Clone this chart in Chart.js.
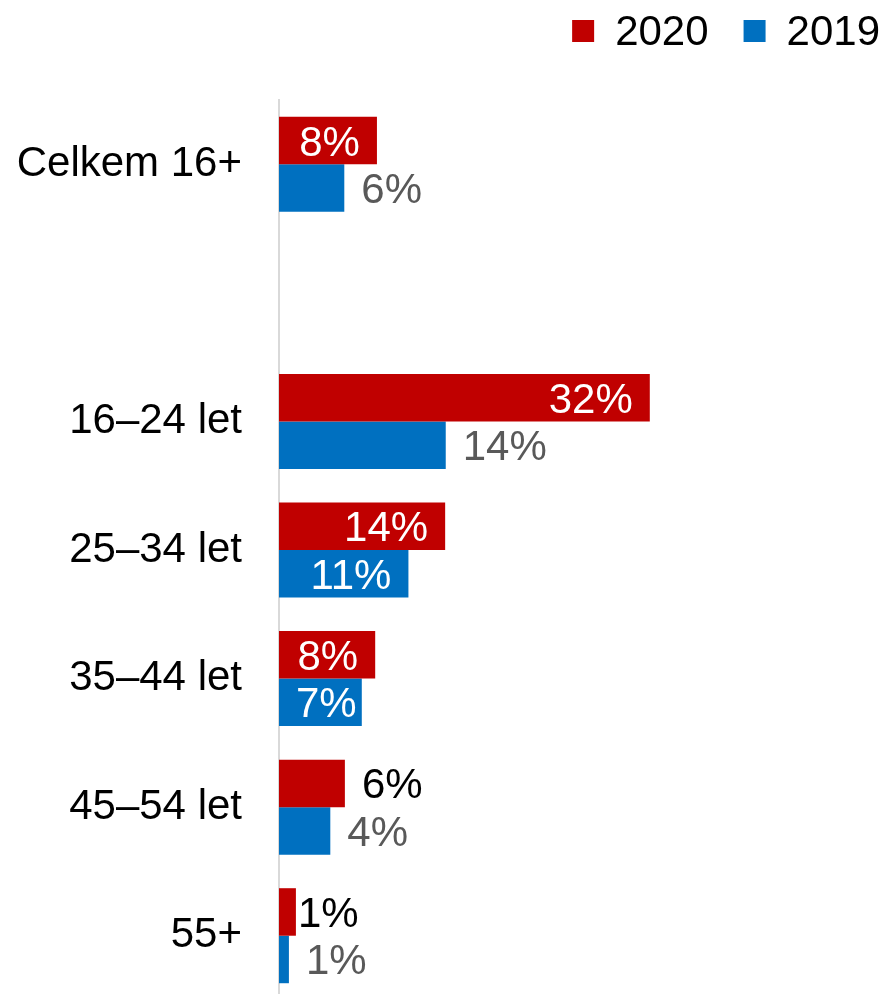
<!DOCTYPE html>
<html>
<head>
<meta charset="utf-8">
<script src="https://cdn.jsdelivr.net/npm/chart.js@4.4.0/dist/chart.umd.min.js"></script>
<style>
  html, body { margin: 0; padding: 0; background: #fff; overflow: hidden; }
  /* the plot runs a few pixels past the bottom of the window */
  #wrap { width: 883px; height: 1000px; }
</style>
</head>
<body>
<div id="wrap"><canvas id="ageChart"></canvas></div>
<script>
const categories = ['Celkem 16+', '', '16–24 let', '25–34 let', '35–44 let', '45–54 let', '55+'];
const values2020 = [8.4, null, 31.8, 14.25, 8.25, 5.65, 1.45];
const values2019 = [5.6, null, 14.3, 11.1, 7.1, 4.4, 0.85];
const xMax = 51.8;

// where each value label sits: in = inside bar end, out = right of bar
const place2020 = ['in', null, 'in', 'in', 'in', 'out', 'tight'];
const place2019 = ['out', null, 'out', 'in', 'in', 'out', 'out'];

const FONT = "'Liberation Sans', Arial, sans-serif";

const valueLabels = {
    id: 'valueLabels',
    afterDatasetsDraw(chart) {
        const ctx = chart.ctx;
        ctx.save();
        ctx.font = '42px ' + FONT;
        ctx.textBaseline = 'alphabetic';
        chart.data.datasets.forEach((ds, di) => {
            const meta = chart.getDatasetMeta(di);
            meta.data.forEach((bar, i) => {
                const v = ds.data[i];
                if (v == null) return;
                const text = Math.round(v) + '%';
                const w = ctx.measureText(text).width;
                const p = ds.labelPlace[i];
                const y = bar.y + 15;
                let x;
                if (p === 'in') {
                    x = Math.max(bar.x - 17, bar.base + w + 17) - w;
                    ctx.fillStyle = '#fff';
                } else {
                    x = bar.x + (p === 'tight' ? 2 : 17);
                    ctx.fillStyle = ds.outsideColor;
                }
                ctx.fillText(text, x, y);
            });
        });
        ctx.restore();
    }
};

// legend in the top right corner
const topLegend = {
    id: 'topLegend',
    afterDraw(chart) {
        const ctx = chart.ctx;
        ctx.save();
        ctx.font = '42px ' + FONT;
        ctx.textBaseline = 'alphabetic';
        let right = chart.width - 3;
        [...chart.data.datasets].reverse().forEach(ds => {
            const w = ctx.measureText(ds.label).width;
            const tx = right - w;
            ctx.fillStyle = '#000';
            ctx.fillText(ds.label, tx, 45);
            ctx.fillStyle = ds.backgroundColor;
            ctx.fillRect(tx - 21 - 22, 20, 22, 22);
            right = tx - 21 - 22 - 35;
        });
        ctx.restore();
    }
};

const ctx = document.getElementById('ageChart').getContext('2d');
const myChart = new Chart(ctx, {
    type: 'bar',
    data: {
        labels: categories,
        datasets: [
            {
                label: '2020',
                data: values2020,
                backgroundColor: '#C00000',
                outsideColor: '#000000',
                labelPlace: place2020,
            },
            {
                label: '2019',
                data: values2019,
                backgroundColor: '#0070C0',
                outsideColor: '#595959',
                labelPlace: place2019,
            },
        ],
    },
    options: {
        indexAxis: 'y',
        responsive: true,
        maintainAspectRatio: false,
        animation: false,
        categoryPercentage: 0.739,
        barPercentage: 1,
        layout: {
            padding: { top: 100, bottom: 0, left: 0, right: 0 },
        },
        plugins: {
            legend: { display: false },
            tooltip: { enabled: false },
        },
        scales: {
            x: { display: false, min: 0, max: xMax },
            y: {
                grid: { display: false },
                border: { display: true, color: '#d9d9d9', width: 2 },
                ticks: {
                    color: '#000',
                    font: { size: 42, family: FONT },
                    padding: 29,
                    autoSkip: false,
                },
                afterFit(scale) {
                    scale.width = 279;
                    scale.paddingTop = 0;
                    scale.paddingBottom = 0;
                },
            },
        },
    },
    plugins: [valueLabels, topLegend],
});
</script>
</body>
</html>
